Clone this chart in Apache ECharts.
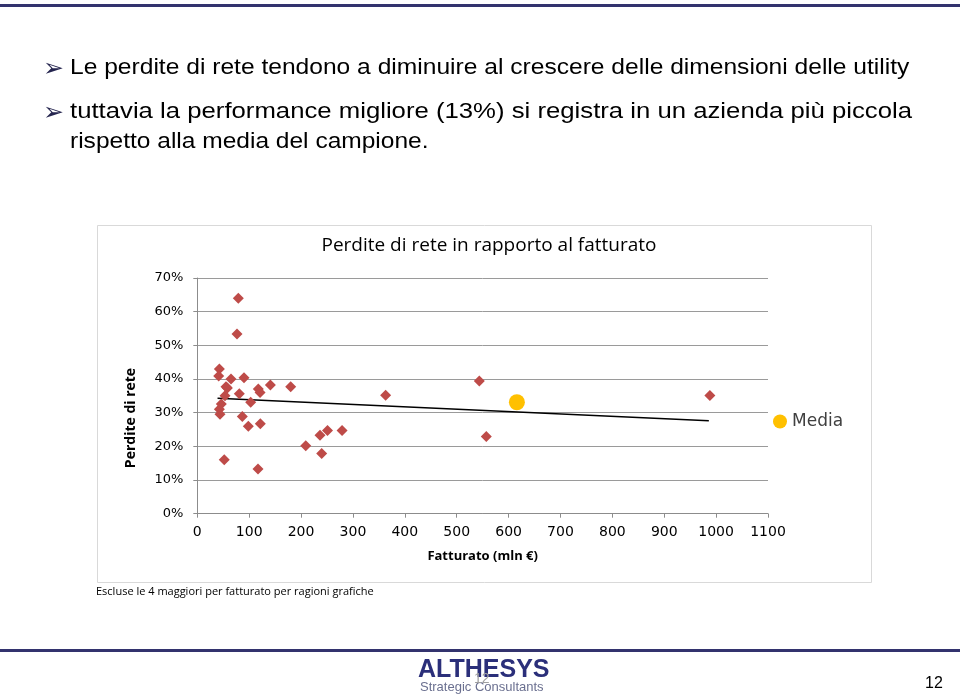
<!DOCTYPE html>
<html><head><meta charset="utf-8">
<script src="https://cdn.jsdelivr.net/npm/echarts@6/dist/echarts.min.js"></script>
<style>html,body{margin:0;padding:0;background:#fff}#c{width:960px;height:698px}</style>
</head><body><div id="c"></div>
<script>
// Data (Fatturato mln €, Perdite di rete %)
const fatturato = [79, 76.5, 42.5, 41.2, 65, 90, 55.3, 58, 81, 53.4, 117.6, 121, 140.8, 180, 102.9, 46.3, 42.5, 43.8, 86.8, 98.3, 121.5, 209, 236.5, 251, 279, 239.7, 52, 117, 363, 543.6, 557, 988];
const perdite   = [64.0, 53.4, 43.0, 40.9, 40.0, 40.4, 37.7, 37.3, 35.6, 35.0, 37.0, 36.0, 38.2, 37.7, 33.1, 32.6, 31.0, 29.5, 28.9, 26.0, 26.7, 20.2, 23.3, 24.7, 24.7, 17.9, 16.0, 13.3, 35.2, 39.4, 22.9, 35.1];
const mediaX = [616];
const mediaY = [33.1];
const trendX = [39, 986];
const trendY = [34.3, 27.6];
const xTicks = [0, 100, 200, 300, 400, 500, 600, 700, 800, 900, 1000, 1100];
const yTicks = [0, 10, 20, 30, 40, 50, 60, 70];

const narrow = '"Open Sans",sans-serif';
const chart = echarts.init(document.getElementById('c'), null, {renderer: 'canvas'});
const pts = fatturato.map((x, i) => [x, perdite[i]]);
const media = mediaX.map((x, i) => [x, mediaY[i]]);
const trend = trendX.map((x, i) => [x, trendY[i]]);

chart.setOption({
  animation: false,
  backgroundColor: '#ffffff',
  title: {
    text: 'Perdite di rete in rapporto al fatturato',
    left: 484, top: 231, textAlign: 'center',
    textStyle: {fontFamily: narrow, fontSize: 19, fontWeight: 'normal', color: '#000'}
  },
  grid: {left: 197.3, right: 192, top: 278, bottom: 184.3, containLabel: false},
  legend: {
    data: [{name: 'Media', icon: 'circle'}],
    left: 768, top: 408, itemWidth: 14, itemHeight: 14, itemGap: 5,
    textStyle: {fontSize: 17, color: '#404040', fontFamily: '"DejaVu Sans",sans-serif'}
  },
  xAxis: {
    type: 'value', min: xTicks[0], max: xTicks[xTicks.length - 1], interval: 100,
    name: 'Fatturato (mln €)', nameLocation: 'middle', nameGap: 36,
    nameTextStyle: {fontFamily: narrow, fontWeight: 'bold', fontSize: 13, color: '#000'},
    axisLine: {show: true, lineStyle: {color: '#8c8c8c'}},
    axisTick: {show: true, length: 4, lineStyle: {color: '#8c8c8c'}},
    axisLabel: {fontSize: 14, color: '#000', margin: 12, fontFamily: '"DejaVu Sans",sans-serif',
                formatter: v => String(v)},
    splitLine: {show: false}
  },
  yAxis: {
    type: 'value', min: yTicks[0], max: yTicks[yTicks.length - 1], interval: 10,
    axisLine: {show: true, lineStyle: {color: '#8c8c8c'}},
    axisTick: {show: true, length: 4, lineStyle: {color: '#8c8c8c'}},
    axisLabel: {fontSize: 13, color: '#000', margin: 14, formatter: '{value}%', fontFamily: '"DejaVu Sans",sans-serif'},
    splitLine: {show: true, lineStyle: {color: '#9a9a9a', width: 1}}
  },
  series: [
    {name: 'Perdite', type: 'scatter', data: pts, symbol: 'diamond', symbolSize: 11,
     itemStyle: {color: '#BE4B48', opacity: 1}, z: 3},
    {name: 'Trend', type: 'line', data: trend, showSymbol: false, symbol: 'none',
     lineStyle: {color: '#000', width: 1.5}, z: 2},
    {name: 'Media', type: 'scatter', data: media, symbol: 'circle', symbolSize: 16,
     itemStyle: {color: '#FFC000', opacity: 1}, z: 4}
  ],
  graphic: [
    {type: 'rect', shape: {x: 0, y: 4, width: 960, height: 3}, style: {fill: '#33336e'}, silent: true},
    {type: 'rect', shape: {x: 0, y: 649, width: 960, height: 3}, style: {fill: '#33336e'}, silent: true},
    {type: 'rect', shape: {x: 97.5, y: 225.5, width: 774, height: 357}, style: {fill: 'none', stroke: '#d9d9d9', lineWidth: 1}, silent: true},
    {type: 'text', x: 131, y: 418, rotation: Math.PI / 2,
     style: {text: 'Perdite di rete', font: 'bold 14px ' + narrow, fill: '#000', align: 'center', verticalAlign: 'middle'}},
    {type: 'text', x: 43, y: 69, style: {text: '➢', font: '25px "DejaVu Sans"', fill: '#25254f', verticalAlign: 'middle'}},
    {type: 'text', x: 70, y: 68, scaleX: 1.093, style: {text: 'Le perdite di rete tendono a diminuire al crescere delle dimensioni delle utility', font: '22.5px "Liberation Sans",Arial', fill: '#000', verticalAlign: 'middle'}},
    {type: 'text', x: 43, y: 113, style: {text: '➢', font: '25px "DejaVu Sans"', fill: '#25254f', verticalAlign: 'middle'}},
    {type: 'text', x: 70, y: 112, scaleX: 1.143, style: {text: 'tuttavia la performance migliore (13%) si registra in un azienda più piccola', font: '22.5px "Liberation Sans",Arial', fill: '#000', verticalAlign: 'middle'}},
    {type: 'text', x: 70, y: 142, scaleX: 1.09, style: {text: 'rispetto alla media del campione.', font: '22.5px "Liberation Sans",Arial', fill: '#000', verticalAlign: 'middle'}},
    {type: 'text', left: 96, top: 586, style: {text: 'Escluse le 4 maggiori per fatturato per ragioni grafiche', font: '11px ' + narrow, fill: '#000'}},
    {type: 'text', left: 418, top: 658, style: {text: 'ALTHESYS', font: 'bold 25px "Liberation Sans",Arial', fill: '#2b2f7a'}},
    {type: 'text', left: 420, top: 681, style: {text: 'Strategic Consultants', font: '13px "Liberation Sans",Arial', fill: '#6b7090'}},
    {type: 'text', left: 474, top: 672, style: {text: '12', font: '14px "Liberation Sans",Arial', fill: '#a0a0a0'}},
    {type: 'text', left: 925, top: 676, style: {text: '12', font: '16px "Liberation Sans",Arial', fill: '#000'}}
  ]
});
</script></body></html>
